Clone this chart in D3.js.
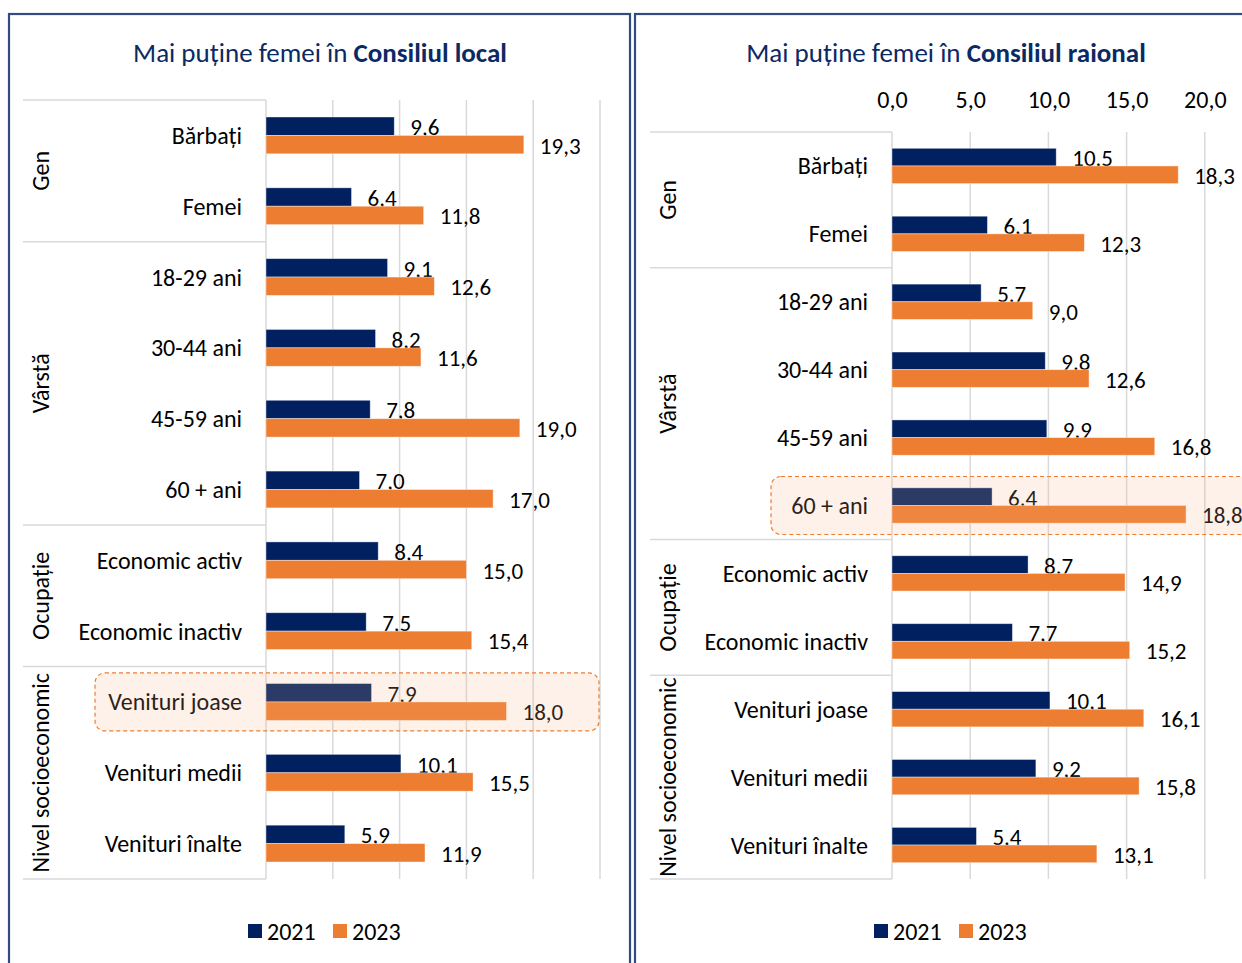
<!DOCTYPE html>
<html>
<head>
<meta charset="utf-8">
<script src="https://cdn.jsdelivr.net/npm/d3@7"></script>
<style>
  body { margin: 0; background: #fff; }
  svg { display: block; font-family: Carlito, Calibri, Lato, sans-serif; }
</style>
</head>
<body>
<svg id="chart" width="1242" height="963"></svg>
<script>
var categories = ["Bărbați", "Femei", "18-29 ani", "30-44 ani", "45-59 ani", "60 + ani",
  "Economic activ", "Economic inactiv", "Venituri joase", "Venituri medii", "Venituri înalte"];
var groupNames = ["Gen", "Vârstă", "Ocupație", "Nivel socioeconomic"];
var groupSizes = [2, 4, 2, 3];
var years = ["2021", "2023"];

var local2021 = [9.6, 6.4, 9.1, 8.2, 7.8, 7.0, 8.4, 7.5, 7.9, 10.1, 5.9];
var local2023 = [19.3, 11.8, 12.6, 11.6, 19.0, 17.0, 15.0, 15.4, 18.0, 15.5, 11.9];
var raional2021 = [10.5, 6.1, 5.7, 9.8, 9.9, 6.4, 8.7, 7.7, 10.1, 9.2, 5.4];
var raional2023 = [18.3, 12.3, 9.0, 12.6, 16.8, 18.8, 14.9, 15.2, 16.1, 15.8, 13.1];
var axisTicks = [0, 5, 10, 15, 20];

var colors = {"2021": "#002060", "2023": "#ED7D31"};
var fmt = function (v) { return d3.format(".1f")(v).replace(".", ","); };

var svg = d3.select("#chart");

function drawPanel(cfg) {
  var g = svg.append("g");

  // frame
  g.append("rect")
    .attr("x", cfg.frame[0]).attr("y", 14)
    .attr("width", cfg.frame[1] - cfg.frame[0]).attr("height", 1000)
    .attr("fill", "none").attr("stroke", "#2f4b7f").attr("stroke-width", 2.2);

  // title
  var title = g.append("text")
    .attr("x", cfg.titleX).attr("y", 52)
    .attr("text-anchor", "middle").attr("dominant-baseline", "central")
    .style("font-size", "27px").style("fill", "#0b2a63");
  title.append("tspan").text("Mai puține femei în ");
  title.append("tspan").style("font-weight", "bold").text(cfg.bold);

  var x = d3.scaleLinear().domain([0, 25]).range([cfg.x0, cfg.x1]);
  var y = d3.scaleBand().domain(categories).range([cfg.top, cfg.bottom]);
  var barH = y.bandwidth() * 0.26;

  // gridlines
  g.selectAll(".grid")
    .data([5, 10, 15, 20, 25])
    .enter().append("line")
    .attr("x1", function (d) { return x(d); })
    .attr("x2", function (d) { return x(d); })
    .attr("y1", cfg.top).attr("y2", cfg.bottom)
    .attr("stroke", "#d9d9d9").attr("stroke-width", 1.5);

  // category axis line
  g.append("line")
    .attr("x1", x(0)).attr("x2", x(0))
    .attr("y1", cfg.top).attr("y2", cfg.bottom)
    .attr("stroke", "#d9d9d9").attr("stroke-width", 1.5);

  // group separators and group labels
  var start = 0;
  var bounds = [cfg.top];
  groupSizes.forEach(function (n, i) {
    var y0 = y(categories[start]);
    var y1 = y(categories[start + n - 1]) + y.bandwidth();
    bounds.push(y1);
    g.append("text")
      .attr("transform", "translate(" + cfg.groupX + "," + ((y0 + y1) / 2) + ") rotate(-90)")
      .attr("text-anchor", "middle").attr("dominant-baseline", "central")
      .style("font-size", "24px").style("fill", "#000")
      .text(groupNames[i]);
    start += n;
  });
  g.selectAll(".sep")
    .data(bounds)
    .enter().append("line")
    .attr("x1", cfg.sepX).attr("x2", x(0))
    .attr("y1", function (d) { return d; })
    .attr("y2", function (d) { return d; })
    .attr("stroke", "#d9d9d9").attr("stroke-width", 1.5);

  // top axis labels
  if (cfg.axis) {
    var axis = d3.axisTop(x).tickValues(axisTicks).tickFormat(fmt).tickSize(0);
    var ax = g.append("g")
      .attr("transform", "translate(0," + (cfg.top - 22) + ")")
      .call(axis);
    ax.select(".domain").remove();
    ax.selectAll("text")
      .attr("dy", "0.32em").attr("y", -10)
      .style("font-size", "24px").style("font-family", "Carlito, Calibri, Lato, sans-serif")
      .style("fill", "#000");
  }

  // category labels
  g.selectAll(".cat")
    .data(categories)
    .enter().append("text")
    .attr("x", cfg.catX)
    .attr("y", function (d) { return y(d) + y.bandwidth() / 2; })
    .attr("text-anchor", "end").attr("dominant-baseline", "central")
    .style("font-size", "24px").style("fill", "#000")
    .text(function (d) { return d; });

  // bars
  var series = [cfg.v2021, cfg.v2023];
  series.forEach(function (vals, s) {
    var yr = years[s];
    g.selectAll(".bar" + yr)
      .data(vals)
      .enter().append("rect")
      .attr("x", x(0))
      .attr("y", function (d, i) { return y(categories[i]) + y.bandwidth() / 2 - (s === 0 ? barH : 0); })
      .attr("width", function (d) { return x(d) - x(0); })
      .attr("height", barH)
      .attr("fill", colors[yr])
      .attr("stroke", "#fff").attr("stroke-opacity", 0.5).attr("stroke-width", 0.8);

    g.selectAll(".lab" + yr)
      .data(vals)
      .enter().append("text")
      .attr("x", function (d) { return x(d) + 16; })
      .attr("y", function (d, i) { return y(categories[i]) + y.bandwidth() / 2 + (s === 0 ? -barH / 2 : barH / 2) + 1; })
      .attr("dominant-baseline", "central")
      .style("font-size", "23px").style("fill", "#000")
      .text(fmt);
  });

  // highlighted row
  var hc = y(categories[cfg.hi]) + y.bandwidth() / 2;
  g.append("rect")
    .attr("x", cfg.hiX[0]).attr("y", hc - 29)
    .attr("width", cfg.hiX[1] - cfg.hiX[0]).attr("height", 58)
    .attr("rx", 10)
    .attr("fill", "#f4b183").attr("fill-opacity", 0.18)
    .attr("stroke", "#ED7D31").attr("stroke-width", 1.2)
    .attr("stroke-dasharray", "4,3");

  // legend
  var lg = g.append("g").attr("transform", "translate(" + cfg.legendX + ",931)");
  years.forEach(function (yr, i) {
    var off = i * 85;
    lg.append("rect")
      .attr("x", off).attr("y", -7).attr("width", 14).attr("height", 14)
      .attr("fill", colors[yr]);
    lg.append("text")
      .attr("x", off + 19).attr("y", 0)
      .attr("dominant-baseline", "central")
      .style("font-size", "24px").style("fill", "#000")
      .text(yr);
  });
}

drawPanel({
  frame: [9, 630], bold: "Consiliul local", titleX: 320,
  x0: 266, x1: 600, top: 100, bottom: 879,
  catX: 242, groupX: 40, sepX: 23, axis: false,
  v2021: local2021, v2023: local2023,
  hi: 8, hiX: [95, 599], legendX: 248
});

drawPanel({
  frame: [635, 1260], bold: "Consiliul raional", titleX: 946,
  x0: 892, x1: 1283, top: 132, bottom: 879,
  catX: 868, groupX: 667, sepX: 650, axis: true,
  v2021: raional2021, v2023: raional2023,
  hi: 5, hiX: [771, 1270], legendX: 874
});
</script>
</body>
</html>
